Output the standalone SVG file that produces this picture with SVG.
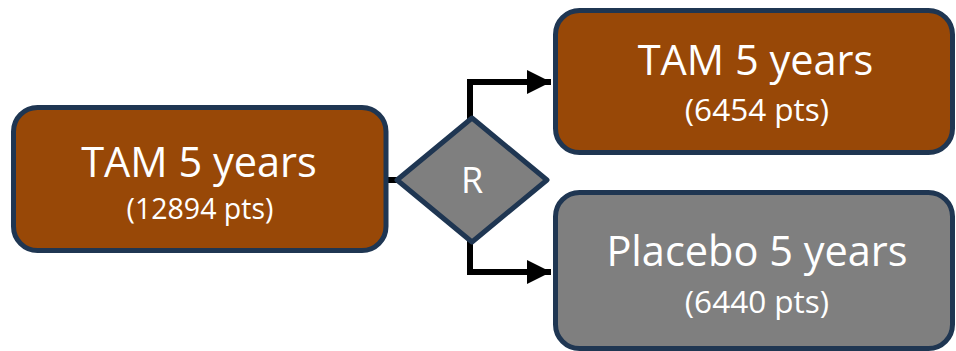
<svg xmlns="http://www.w3.org/2000/svg" width="956" height="351" viewBox="0 0 956 351">
  <style>
    .box { stroke: #1F3652; stroke-width: 5; }
    .tam { fill: #984807; }
    .gray { fill: #7F7F7F; }
    .t1 { font-family: "Open Sans", "Liberation Sans", sans-serif; font-size: 41.5px; fill: #FFFFFF; text-anchor: middle; }
    .t2 { font-family: "Open Sans", "Liberation Sans", sans-serif; font-size: 28.5px; fill: #FFFFFF; text-anchor: middle; }
    .t3 { font-family: "Open Sans", "Liberation Sans", sans-serif; font-size: 31.5px; fill: #FFFFFF; text-anchor: middle; }
    .link { fill: none; stroke: #000000; stroke-width: 6; }
  </style>
  <defs>
    <marker id="arrow" markerUnits="userSpaceOnUse" viewBox="0 0 24 24" refX="24" refY="12" markerWidth="24" markerHeight="24" orient="auto">
      <path d="M0,0 L24,12 L0,24 Z" fill="#000000"/>
    </marker>
  </defs>

  <g id="connectors">
    <path class="link" d="M386,180 H399"/>
    <path class="link" d="M470,120 V82 H551" marker-end="url(#arrow)"/>
    <path class="link" d="M470,240 V272 H551" marker-end="url(#arrow)"/>
  </g>

  <g id="node-tam-all">
    <rect class="box tam" x="13.5" y="107.5" width="372.5" height="143" rx="24"/>
    <text class="t1" x="199" y="177">TAM 5 years</text>
    <text class="t2" x="200" y="219">(12894 pts)</text>
  </g>

  <g id="node-randomize">
    <polygon class="box gray" points="472,118 547,180 472,242 397,180" stroke-linejoin="round"/>
    <text class="t1" x="472" y="193" style="font-size:36px">R</text>
  </g>

  <g id="node-tam-arm">
    <rect class="box tam" x="555.5" y="10.5" width="397" height="142" rx="24"/>
    <text class="t1" x="755.5" y="75">TAM 5 years</text>
    <text class="t3" x="757" y="121">(6454 pts)</text>
  </g>

  <g id="node-placebo-arm">
    <rect class="box gray" x="555.5" y="192.5" width="397" height="156" rx="24"/>
    <text class="t1" x="757" y="266">Placebo 5 years</text>
    <text class="t3" x="757" y="313">(6440 pts)</text>
  </g>
</svg>
